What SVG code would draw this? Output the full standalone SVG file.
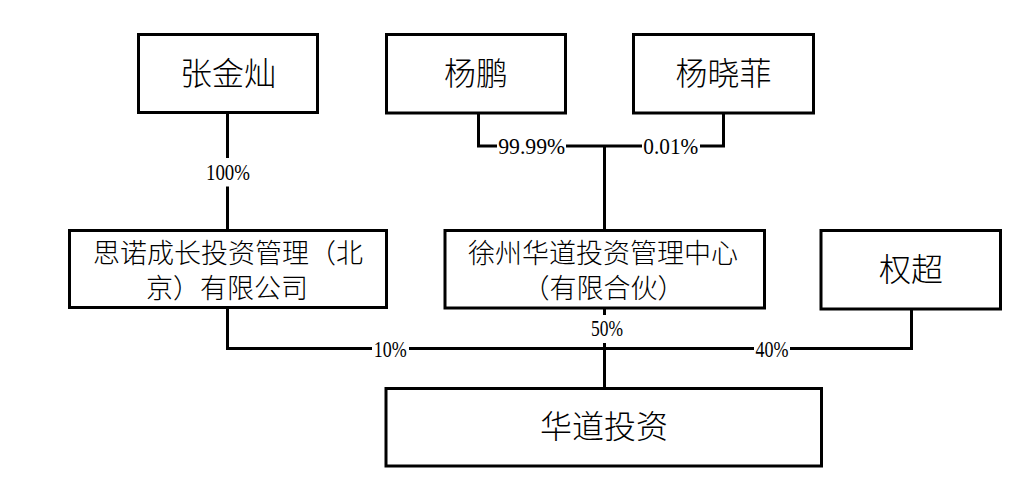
<svg xmlns="http://www.w3.org/2000/svg" width="1036" height="503" viewBox="0 0 1036 503">
<style>
.box{fill:#fff;stroke:#000;stroke-width:3}
.name{font-family:"Noto Sans CJK SC","Noto Sans",sans-serif;font-size:32px;font-weight:300;fill:#000;text-anchor:middle}
.name2{font-family:"Noto Sans CJK SC","Noto Sans",sans-serif;font-size:27px;font-weight:300;fill:#000;text-anchor:middle}
.line{fill:none;stroke:#000;stroke-width:3}
.lbl{font-family:"Liberation Serif","Times New Roman",serif;font-size:23px;fill:#000;text-anchor:middle}
.bg{fill:#fff}
</style>
<rect width="1036" height="503" fill="#fff"/>
<g id="connectors">
<path class="line" d="M227.5 112.5V230.5"/>
<path class="line" d="M478.5 113V146H723.5V113"/>
<path class="line" d="M604.5 146V230.5"/>
<path class="line" d="M227.5 307.5V348.5H911.5V309"/>
<path class="line" d="M604.5 307.5V388.5"/>
<rect class="bg" x="205" y="158" width="46" height="28.5"/>
<text class="lbl" x="228" y="179.5" textLength="44" lengthAdjust="spacingAndGlyphs">100%</text>
<rect class="bg" x="497" y="136" width="69" height="22"/>
<text class="lbl" x="531.7" y="154.3" textLength="67" lengthAdjust="spacingAndGlyphs">99.99%</text>
<rect class="bg" x="642" y="136" width="58" height="22"/>
<text class="lbl" x="670.8" y="154.3" textLength="55" lengthAdjust="spacingAndGlyphs">0.01%</text>
<rect class="bg" x="372" y="338" width="37" height="22"/>
<text class="lbl" x="390.3" y="356.5" textLength="33" lengthAdjust="spacingAndGlyphs">10%</text>
<rect class="bg" x="589" y="315" width="36" height="28"/>
<text class="lbl" x="607" y="336" textLength="32" lengthAdjust="spacingAndGlyphs">50%</text>
<rect class="bg" x="754" y="338" width="36" height="22"/>
<text class="lbl" x="772" y="356.5" textLength="33" lengthAdjust="spacingAndGlyphs">40%</text>
</g>
<g id="n-zhangjincan">
<rect class="box" x="138.5" y="34.5" width="179" height="78"/>
<text class="name" x="228" y="84.5">张金灿</text>
</g>
<g id="n-yangpeng">
<rect class="box" x="386.5" y="34.5" width="179" height="78.5"/>
<text class="name" x="476" y="85">杨鹏</text>
</g>
<g id="n-yangxiaofei">
<rect class="box" x="633.5" y="34.5" width="180" height="78.5"/>
<text class="name" x="723.5" y="85">杨晓菲</text>
</g>
<g id="n-sinuo">
<rect class="box" x="69.5" y="230.5" width="317" height="77"/>
<text class="name2" x="228" y="262.5">思诺成长投资管理（北</text>
<text class="name2" x="227" y="298">京）有限公司</text>
</g>
<g id="n-xuzhou">
<rect class="box" x="445" y="230.5" width="319.5" height="77.5"/>
<text class="name2" x="603" y="262.5">徐州华道投资管理中心</text>
<text class="name2" x="603.5" y="298">（有限合伙）</text>
</g>
<g id="n-quanchao">
<rect class="box" x="821" y="230.5" width="179.5" height="78.5"/>
<text class="name" x="911" y="281">权超</text>
</g>
<g id="n-huadao">
<rect class="box" x="386" y="388.5" width="435.5" height="77.5"/>
<text class="name" x="604" y="438">华道投资</text>
</g>
</svg>
